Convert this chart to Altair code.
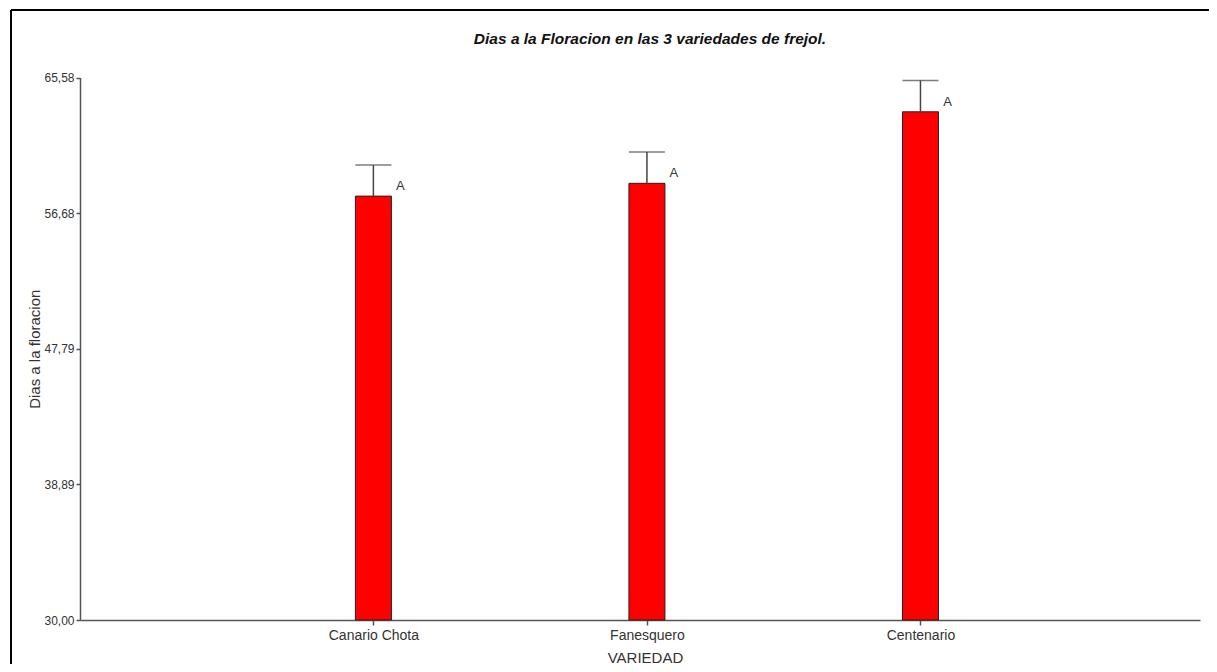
import altair as alt
import pandas as pd

variedades = ["Canario Chota", "Fanesquero", "Centenario"]
medias = [57.80, 58.64, 63.33]
errores = [2.04, 2.05, 2.06]
letras = ["A", "A", "A"]
y_ticks = [30.00, 38.89, 47.79, 56.68, 65.58]

df = pd.DataFrame({
    "VARIEDAD": variedades,
    "pos": list(range(len(variedades))),
    "media": medias,
    "err": errores,
    "letra": letras,
})
df["sup"] = df["media"] + df["err"]
df["base"] = 30.0

FONT = "Liberation Sans"
W, H = 1198, 654

names_js = "[" + ",".join("'" + v + "'" for v in variedades) + "]"

xscale = alt.Scale(domain=[-1.0543, 3.0036], range=[69, 1189], zero=False, nice=False)
yscale = alt.Scale(domain=[30, 65.58], range=[610, 67.5], zero=False, nice=False)

xenc = alt.X("pos:Q", scale=xscale,
             axis=alt.Axis(orient="bottom", offset=610 - H, title="VARIEDAD",
                           values=list(range(len(variedades))),
                           labelExpr=names_js + "[datum.value]",
                           titleX=634, titleY=42, titleBaseline="alphabetic",
                           titleFontSize=15, titleFont=FONT, titleFontWeight="normal",
                           titleColor="#333333", labelFont=FONT, labelFontSize=14,
                           labelColor="#333333", labelAngle=0, labelPadding=3,
                           labelFlush=False, labelOverlap=False,
                           tickSize=5, tickColor="#555555", domainColor="#555555",
                           domainWidth=1.5, tickWidth=1.5, grid=False))

yenc = alt.Y("media:Q", scale=yscale,
             axis=alt.Axis(orient="left", offset=-69, title="Dias a la floracion",
                           values=y_ticks,
                           labelExpr="replace(format(datum.value, '.2f'), '.', ',')",
                           titleX=-46, titleY=338.75, titleBaseline="middle", titleAngle=-90,
                           titleFontSize=15, titleFont=FONT, titleFontWeight="normal",
                           titleColor="#333333", labelFont=FONT, labelFontSize=12,
                           labelColor="#333333", labelPadding=2, tickSize=4,
                           labelFlush=False, labelOverlap=False,
                           tickColor="#555555", domainColor="#555555", domainWidth=1.5,
                           tickWidth=1.5, grid=False))

base = alt.Chart(df)
xplain = alt.X("pos:Q", scale=xscale)

bars = base.mark_bar(color="#ff0000", stroke="#222222", strokeWidth=1, size=36).encode(
    x=xenc, y=yenc, y2="base:Q")

rule = base.mark_rule(color="#444444", strokeWidth=1.5).encode(
    x=xplain, y=alt.Y("media:Q", scale=yscale), y2="sup:Q")

cap = base.mark_tick(color="#444444", thickness=1.5, size=36, orient="horizontal").encode(
    x=xplain, y=alt.Y("sup:Q", scale=yscale))

txt = base.mark_text(font=FONT, fontSize=13, color="#333333", dx=27, dy=-10,
                     align="center", baseline="middle").encode(
    x=xplain, y=alt.Y("media:Q", scale=yscale), text="letra:N")

frame_left = alt.Chart(pd.DataFrame({"a": [0]})).mark_rule(color="black", strokeWidth=2).encode(
    x=alt.value(0), y=alt.value(0), y2=alt.value(H + 10))
frame_top = alt.Chart(pd.DataFrame({"a": [0]})).mark_rule(color="black", strokeWidth=2).encode(
    x=alt.value(0), x2=alt.value(W + 2), y=alt.value(0))

chart = alt.layer(bars, rule, cap, txt, frame_left, frame_top).properties(
    width=W, height=H,
    title=alt.TitleParams("Dias a la Floracion en las 3 variedades de frejol.",
                          font=FONT, fontSize=15.5, fontWeight="bold", fontStyle="italic",
                          color="#111111", anchor="middle", frame="group",
                          baseline="middle", offset=0, dx=40, dy=45),
    autosize=alt.AutoSizeParams(type="none"),
    padding={"left": 3, "top": 2, "right": 0, "bottom": 0},
).configure_view(stroke=None).configure(background="white")

chart.save("out.html", embed_options={"renderer": "svg", "actions": False})
